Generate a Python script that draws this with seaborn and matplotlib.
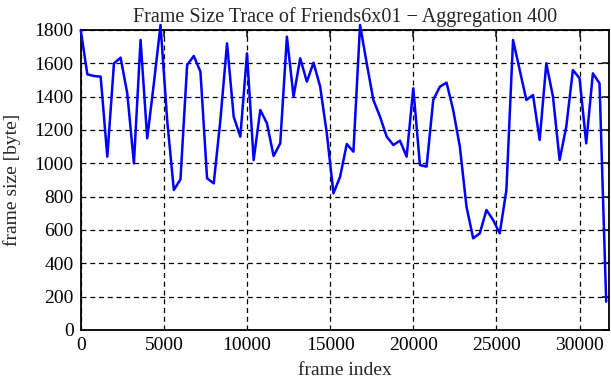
import numpy as np
import pandas as pd
import matplotlib
matplotlib.use("Agg")
import matplotlib.pyplot as plt
import seaborn as sns

# ---- data ----
aggregation = 400
frame_size = [1800, 1534, 1524, 1520, 1040, 1600, 1634, 1420, 1000, 1740,
              1150, 1480, 1830, 1260, 840, 904, 1590, 1644, 1550, 910,
              880, 1260, 1720, 1280, 1160, 1660, 1020, 1320, 1240, 1044,
              1120, 1760, 1400, 1630, 1490, 1604, 1460, 1180, 820, 920,
              1116, 1070, 1830, 1600, 1380, 1280, 1160, 1110, 1136, 1040,
              1450, 990, 980, 1380, 1460, 1484, 1320, 1100, 740, 550,
              580, 720, 660, 580, 840, 1740, 1560, 1380, 1410, 1140,
              1600, 1400, 1020, 1220, 1560, 1510, 1120, 1540, 1480, 170]
frame_index = [i * aggregation for i in range(len(frame_size))]
x_ticks = [0, 5000, 10000, 15000, 20000, 25000, 30000]
y_ticks = [0, 200, 400, 600, 800, 1000, 1200, 1400, 1600, 1800]
title = "Frame Size Trace of Friends6x01 \u2212 Aggregation 400"

df = pd.DataFrame({"frame index": frame_index, "frame size": frame_size})

sns.set_theme(style="white")
plt.rcParams["font.family"] = ["Liberation Serif", "DejaVu Serif"]

fig = plt.figure(figsize=(6.11, 3.80), dpi=100)
ax = fig.add_axes([80.7 / 611, 50 / 380, (609 - 80.7) / 611, 300 / 380])

sns.lineplot(data=df, x="frame index", y="frame size", ax=ax,
             color="#0000ff", linewidth=1.8, clip_on=False, zorder=3)

ax.set_xlim(0, 31770)
ax.set_ylim(0, 1800)
ax.set_xticks(x_ticks)
ax.set_yticks(y_ticks)
ax.set_xticklabels([str(t) for t in x_ticks])
ax.set_yticklabels([str(t) for t in y_ticks])

ax.grid(True, color="black", linestyle=(0, (4, 3)), linewidth=0.9)
ax.set_axisbelow(True)
for s in ax.spines.values():
    s.set_visible(True)
    s.set_color("black")
    s.set_linewidth(1.3)

ax.tick_params(axis="both", which="major", direction="in", length=5, width=1.1,
               top=True, right=True, labelsize=14, colors="black", pad=5)

ax.set_xlabel("frame index", fontsize=14, labelpad=6)
ax.set_ylabel("frame size [byte]", fontsize=14, labelpad=10)
ax.set_title(title, fontsize=14.5, pad=6)

fig.savefig("out.png", dpi=100)
